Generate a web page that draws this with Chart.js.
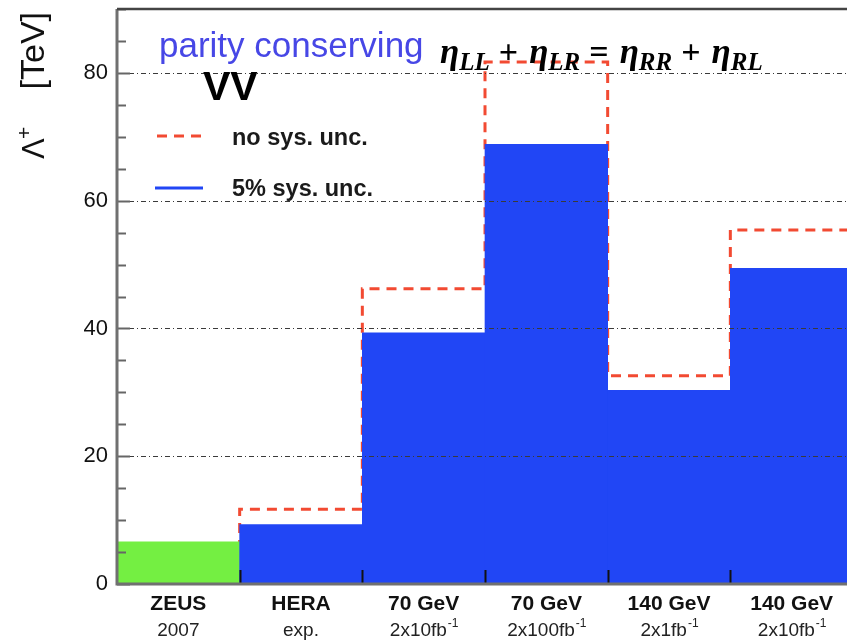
<!DOCTYPE html>
<html>
<head>
<meta charset="utf-8">
<script src="https://cdn.jsdelivr.net/npm/chart.js@4.4.1/dist/chart.umd.min.js"></script>
<style>
  html, body { margin: 0; padding: 0; background: #fff; overflow: hidden; }
  #wrap { width: 856px; height: 642px; position: relative; }
</style>
</head>
<body>
<div id="wrap"><canvas id="limits"></canvas></div>
<script>
// ----------------- Data -----------------
const categories = ["ZEUS", "HERA", "70 GeV", "70 GeV", "140 GeV", "140 GeV"];
const subLabels = ["2007", "exp.", "2x10fb^-1", "2x100fb^-1", "2x1fb^-1", "2x10fb^-1"];
const sysUnc = [6.6, 9.3, 39.3, 68.8, 30.3, 49.4];          // 5% sys. unc. (ZEUS 2007 = measured)
const noSysUnc = [null, 11.7, 46.2, 81.7, 32.6, 55.4];      // no sys. unc.
const yTicks = [0, 20, 40, 60, 80];

// ----------------- Styles -----------------
const BLUE = "#2146f5";
const GREEN = "#74ef42";
const RED = "#f24a32";
const SANS = '"Liberation Sans", Arial, sans-serif';
const SERIF = '"Liberation Serif", "Times New Roman", serif';

// bins live on a linear axis: bin i spans [i, i+1]
const barPoints = sysUnc.map((v, i) => ({ x: i + 0.5, y: v }));

// step outline for the no-sys curve, on bin edges
function buildStepPoints() {
  const pts = [];
  noSysUnc.forEach((v, i) => {
    if (v === null) return;
    if (!pts.length) pts.push({ x: i, y: 0 });
    pts.push({ x: i + 1, y: v });
  });
  return pts;
}

// ----------------- Frame, grid, ticks -----------------
const framePlugin = {
  id: "frame",
  afterDatasetsDraw(chart) {
    const { ctx, chartArea: a, scales } = chart;
    const y = scales.y, x = scales.x;
    ctx.save();

    // dotted grid at labelled values
    ctx.strokeStyle = "#3a3a3a";
    ctx.lineWidth = 1;
    ctx.setLineDash([5, 3, 1, 3]);
    yTicks.forEach(v => {
      if (v === 0) return;
      const py = Math.round(y.getPixelForValue(v)) + 0.5;
      ctx.beginPath();
      ctx.moveTo(a.left, py);
      ctx.lineTo(a.right, py);
      ctx.stroke();
    });
    ctx.setLineDash([]);

    // inner tick marks on the y axis
    ctx.strokeStyle = "#666";
    ctx.lineWidth = 2;
    y.ticks.forEach(t => {
      const py = Math.round(y.getPixelForValue(t.value)) + 0.5;
      const len = t.value % 20 === 0 ? 13 : 9;
      ctx.beginPath();
      ctx.moveTo(a.left, py);
      ctx.lineTo(a.left + len, py);
      ctx.stroke();
    });

    // bin-edge ticks on the x axis
    ctx.strokeStyle = "#111";
    for (let i = 1; i < categories.length; i++) {
      const px = Math.round(x.getPixelForValue(i)) + 0.5;
      ctx.beginPath();
      ctx.moveTo(px, a.bottom);
      ctx.lineTo(px, a.bottom - 14);
      ctx.stroke();
    }

    // axes and top frame
    ctx.strokeStyle = "#707070";
    ctx.lineWidth = 3;
    ctx.beginPath();
    ctx.moveTo(a.left, a.top);
    ctx.lineTo(a.left, a.bottom);
    ctx.lineTo(a.right + 5, a.bottom);
    ctx.stroke();
    ctx.strokeStyle = "#444";
    ctx.lineWidth = 2.5;
    ctx.beginPath();
    ctx.moveTo(a.left, a.top);
    ctx.lineTo(a.right + 5, a.top);
    ctx.stroke();
    ctx.restore();
  }
};

// ----------------- Texts -----------------
function drawSubLabel(ctx, text, cx, baseline) {
  const [base, sup] = text.split("^");
  ctx.font = `19px ${SANS}`;
  const wBase = ctx.measureText(base).width;
  ctx.font = `12px ${SANS}`;
  const wSup = sup ? ctx.measureText(sup).width : 0;
  const x0 = cx - (wBase + wSup) / 2;
  ctx.textAlign = "left";
  ctx.font = `19px ${SANS}`;
  ctx.fillText(base, x0, baseline);
  if (sup) {
    ctx.font = `12px ${SANS}`;
    ctx.fillText(sup, x0 + wBase + 1, baseline - 9);
  }
}

function drawFormula(ctx, x, baseline) {
  const parts = [
    ["\u03B7", "sym"], ["LL", "sub"], ["+", "op"],
    ["\u03B7", "sym"], ["LR", "sub"], ["=", "op"],
    ["\u03B7", "sym"], ["RR", "sub"], ["+", "op"],
    ["\u03B7", "sym"], ["RL", "sub"]
  ];
  ctx.textAlign = "left";
  ctx.fillStyle = "#000";
  parts.forEach(([t, kind]) => {
    if (kind === "sym") {
      ctx.font = `bold italic 35px ${SERIF}`;
      ctx.fillText(t, x, baseline);
      x += ctx.measureText(t).width;
    } else if (kind === "sub") {
      ctx.font = `bold italic 25px ${SERIF}`;
      ctx.fillText(t, x, baseline + 7);
      x += ctx.measureText(t).width + 9;
    } else {
      ctx.font = `bold 34px ${SERIF}`;
      ctx.fillText(t, x, baseline);
      x += ctx.measureText(t).width + 11;
    }
  });
}

const textPlugin = {
  id: "texts",
  afterDraw(chart) {
    const { ctx, chartArea: a, scales } = chart;
    const x = scales.x;
    ctx.save();
    ctx.textBaseline = "alphabetic";

    // category labels, two lines
    categories.forEach((c, i) => {
      const cx = x.getPixelForValue(i + 0.5);
      ctx.fillStyle = "#111";
      ctx.textAlign = "center";
      ctx.font = `bold 21px ${SANS}`;
      ctx.fillText(c, cx, a.bottom + 26);
      ctx.fillStyle = "#222";
      drawSubLabel(ctx, subLabels[i], cx, a.bottom + 52);
    });

    // y axis title, rotated
    ctx.save();
    ctx.translate(44, 0);
    ctx.rotate(-Math.PI / 2);
    ctx.fillStyle = "#111";
    ctx.textAlign = "left";
    ctx.font = `31px ${SANS}`;
    ctx.fillText("\u039B", -159, 0);
    ctx.font = `21px ${SANS}`;
    ctx.fillText("+", -139, -13);
    ctx.textAlign = "right";
    ctx.font = `34px ${SANS}`;
    ctx.fillText("[TeV]", -12, 0);
    ctx.restore();

    // headline
    ctx.textAlign = "left";
    ctx.fillStyle = "#4747e6";
    ctx.font = `35px ${SANS}`;
    ctx.fillText("parity conserving", 159, 57);
    ctx.fillStyle = "#000";
    ctx.font = `bold 41px ${SANS}`;
    ctx.fillText("VV", 203, 100);
    drawFormula(ctx, 440, 63);

    // legend
    const ds = chart.data.datasets;
    ctx.lineWidth = 3;
    ctx.strokeStyle = RED;
    ctx.setLineDash([10, 7]);
    ctx.beginPath();
    ctx.moveTo(157, 136);
    ctx.lineTo(205, 136);
    ctx.stroke();
    ctx.setLineDash([]);
    ctx.strokeStyle = BLUE;
    ctx.beginPath();
    ctx.moveTo(155, 188);
    ctx.lineTo(203, 188);
    ctx.stroke();
    ctx.fillStyle = "#1a1a1a";
    ctx.font = `bold 23.5px ${SANS}`;
    ctx.fillText(ds[1].label, 232, 145);
    ctx.fillText(ds[0].label, 232, 196);
    ctx.restore();
  }
};

// ----------------- Chart -----------------
new Chart(document.getElementById("limits"), {
  type: "bar",
  data: {
    datasets: [
      {
        type: "bar",
        label: "5% sys. unc.",
        data: barPoints,
        backgroundColor: sysUnc.map((_, i) => (i === 0 ? GREEN : BLUE)),
        borderWidth: 0,
        barPercentage: 1,
        categoryPercentage: 1,
        grouped: false,
        order: 1
      },
      {
        type: "line",
        label: "no sys. unc.",
        data: buildStepPoints(),
        stepped: "after",
        borderColor: RED,
        borderWidth: 3,
        borderDash: [10, 7],
        pointRadius: 0,
        fill: false,
        order: 2
      }
    ]
  },
  options: {
    responsive: true,
    maintainAspectRatio: false,
    animation: false,
    layout: { padding: { top: 9, right: 3, left: 0, bottom: 0 } },
    plugins: { legend: { display: false }, tooltip: { enabled: false } },
    scales: {
      x: {
        type: "linear",
        min: 0,
        max: categories.length,
        offset: false,
        grid: { display: false, drawTicks: false },
        border: { display: false },
        ticks: { display: false, stepSize: 1 },
        afterFit: s => { s.height = 58; }
      },
      y: {
        min: 0,
        max: 90,
        grid: { display: false, drawTicks: false },
        border: { display: false },
        ticks: {
          stepSize: 5,
          padding: 9,
          color: "#111",
          font: { family: "Liberation Sans", size: 22 },
          callback: v => (yTicks.includes(v) ? v : "")
        },
        afterFit: s => {
          s.width = 117;
          s.paddingTop = 0;
          s.paddingBottom = 0;
        }
      }
    }
  },
  plugins: [framePlugin, textPlugin]
});
</script>
</body>
</html>
